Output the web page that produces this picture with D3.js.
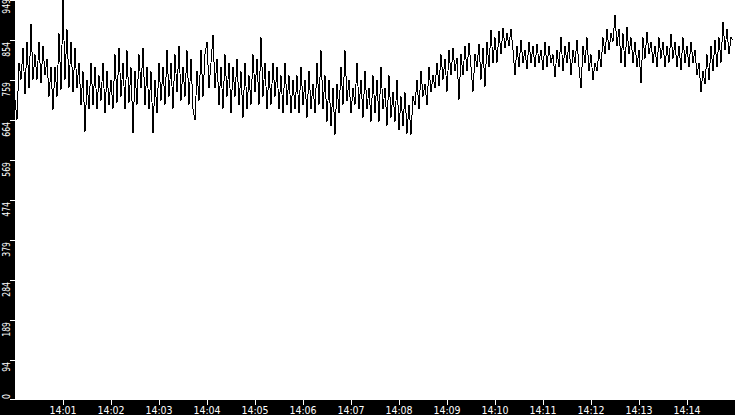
<!DOCTYPE html>
<html>
<head>
<meta charset="utf-8">
<script src="https://cdn.jsdelivr.net/npm/d3@7/dist/d3.min.js"></script>
<style>
  html, body { margin: 0; padding: 0; background: #000; }
  svg { display: block; }
</style>
</head>
<body>
<svg id="chart" width="735" height="415"></svg>
<script>
// ---- data ----
const startTime = "14:00:00";
const stepSeconds = 2.5;
const endTime = "14:15:00";
const values = [
  712, 665, 800, 760, 835, 725, 850, 740, 892, 760,
  820, 760, 850, 752, 840, 770, 810, 720, 790, 688,
  790, 720, 870, 735, 949, 760, 880, 740, 850, 730,
  835, 740, 800, 700, 780, 636, 760, 690, 800, 700,
  790, 690, 770, 710, 800, 680, 780, 700, 760, 690,
  820, 705, 835, 720, 800, 690, 830, 705, 790, 633,
  780, 700, 820, 740, 835, 700, 790, 690, 780, 633,
  760, 680, 800, 710, 790, 700, 830, 720, 800, 690,
  820, 730, 840, 710, 790, 720, 830, 700, 810, 690,
  664, 780, 710, 830, 720, 820, 850, 740, 800, 866,
  740, 810, 700, 790, 690, 820, 720, 800, 680, 790,
  720, 810, 700, 780, 670, 800, 690, 770, 700, 820,
  730, 810, 700, 860, 720, 800, 690, 780, 700, 800,
  720, 790, 690, 770, 680, 800, 700, 770, 680, 760,
  690, 770, 680, 790, 700, 760, 670, 780, 690, 750,
  680, 800, 700, 830, 690, 770, 660, 760, 650, 740,
  629, 750, 680, 790, 700, 830, 710, 760, 680, 740,
  700, 800, 690, 760, 670, 780, 690, 740, 660, 770,
  680, 760, 660, 790, 690, 740, 650, 770, 670, 730,
  660, 760, 640, 720, 650, 730, 632, 700, 629, 720,
  700, 760, 690, 780, 720, 750, 700, 790, 730, 770,
  740, 800, 745, 820, 760, 810, 731, 830, 770, 835,
  780, 812, 712, 820, 770, 840, 780, 847, 790, 731,
  820, 790, 845, 760, 835, 743, 850, 790, 878, 800,
  860, 800, 875, 820, 882, 835, 870, 840, 880, 830,
  771, 840, 790, 854, 800, 830, 785, 850, 800, 840,
  790, 845, 800, 830, 783, 850, 790, 840, 800, 820,
  766, 830, 790, 861, 780, 840, 800, 850, 770, 830,
  800, 855, 790, 740, 840, 800, 860, 780, 820, 759,
  800, 780, 830, 790, 860, 820, 880, 830, 870, 850,
  913, 840, 880, 800, 870, 790, 885, 820, 860, 800,
  850, 790, 830, 752, 860, 810, 873, 820, 850, 800,
  840, 790, 860, 810, 850, 790, 840, 800, 868, 810,
  850, 790, 840, 783, 860, 800, 840, 790, 850, 800,
  830, 770, 800, 731, 780, 750, 820, 759, 840, 780,
  854, 790, 860, 800, 897, 830, 880, 820, 860, 854
];
const yTickCount = 10;
const xTickFormat = "%H:%M";

// ---- layout ----
const W = 735, H = 415;
const plot = { left: 15, right: 735, top: 0, bottom: 400 };

const parse = d3.timeParse("%Y-%m-%d %H:%M:%S");
const t0 = parse("2024-01-01 " + startTime);
const t1 = parse("2024-01-01 " + endTime);
const data = values.map((v, i) => ({ t: new Date(t0.getTime() + i * stepSeconds * 1000), v }));

const svg = d3.select("#chart");
svg.append("rect").attr("x", 0).attr("y", 0).attr("width", W).attr("height", H).attr("fill", "#000");
svg.append("rect")
  .attr("x", plot.left).attr("y", plot.top)
  .attr("width", plot.right - plot.left).attr("height", plot.bottom - plot.top)
  .attr("fill", "#fff");

const x = d3.scaleTime().domain([t0, t1]).range([plot.left, plot.right]);
const yMax = d3.max(values);
const y = d3.scaleLinear().domain([0, yMax]).range([plot.bottom, plot.top]);

// line
const line = d3.line().x(d => x(d.t)).y(d => y(d.v));
svg.append("path")
  .datum(data)
  .attr("d", line)
  .attr("fill", "none")
  .attr("stroke", "#000")
  .attr("stroke-width", 1)
  .attr("shape-rendering", "crispEdges");

// x axis
const xTicks = d3.timeMinute.range(d3.timeMinute.offset(t0, 1), t1);
const fmt = d3.timeFormat(xTickFormat);
const xg = svg.append("g");
xg.selectAll("line").data(xTicks).join("line")
  .attr("x1", d => Math.round(x(d)) + 0.5).attr("x2", d => Math.round(x(d)) + 0.5)
  .attr("y1", plot.bottom).attr("y2", plot.bottom + 5)
  .attr("stroke", "#fff").attr("stroke-width", 1);
xg.selectAll("text").data(xTicks).join("text")
  .attr("x", d => x(d)).attr("y", 414)
  .attr("text-anchor", "middle")
  .attr("fill", "#fff")
  .attr("font-family", "DejaVu Sans Condensed, DejaVu Sans")
  .attr("font-stretch", "condensed")
  .attr("font-size", "10.5px")
  .text(d => fmt(d));

// y axis
const yTicks = d3.range(0, yTickCount + 1).map(k => yMax * k / yTickCount);
const yg = svg.append("g");
yg.selectAll("line").data(yTicks).join("line")
  .attr("x1", 10).attr("x2", plot.left)
  .attr("y1", d => Math.min(plot.bottom - 0.5, Math.round(y(d)) + 0.5))
  .attr("y2", d => Math.min(plot.bottom - 0.5, Math.round(y(d)) + 0.5))
  .attr("stroke", "#fff").attr("stroke-width", 1);
const sx = 0.78;
const yFont = 11;
yg.selectAll("text").data(yTicks).join("text")
  .attr("transform", (d, i) => {
    const label = String(Math.floor(d + 1e-9));
    const L = label.length * 0.572 * yFont * sx;
    let yEnd = y(d) + 2;
    if (i === yTicks.length - 1) yEnd = -1;
    if (yEnd + L > plot.bottom - 1) yEnd = plot.bottom - 1 - L;
    return `translate(9.5,${yEnd}) rotate(-90) scale(${sx},1)`;
  })
  .attr("text-anchor", "end")
  .attr("fill", "#fff")
  .attr("font-family", "DejaVu Sans Condensed, DejaVu Sans")
  .attr("font-stretch", "condensed")
  .attr("font-size", yFont + "px")
  .text(d => String(Math.floor(d + 1e-9)));
</script>
</body>
</html>
